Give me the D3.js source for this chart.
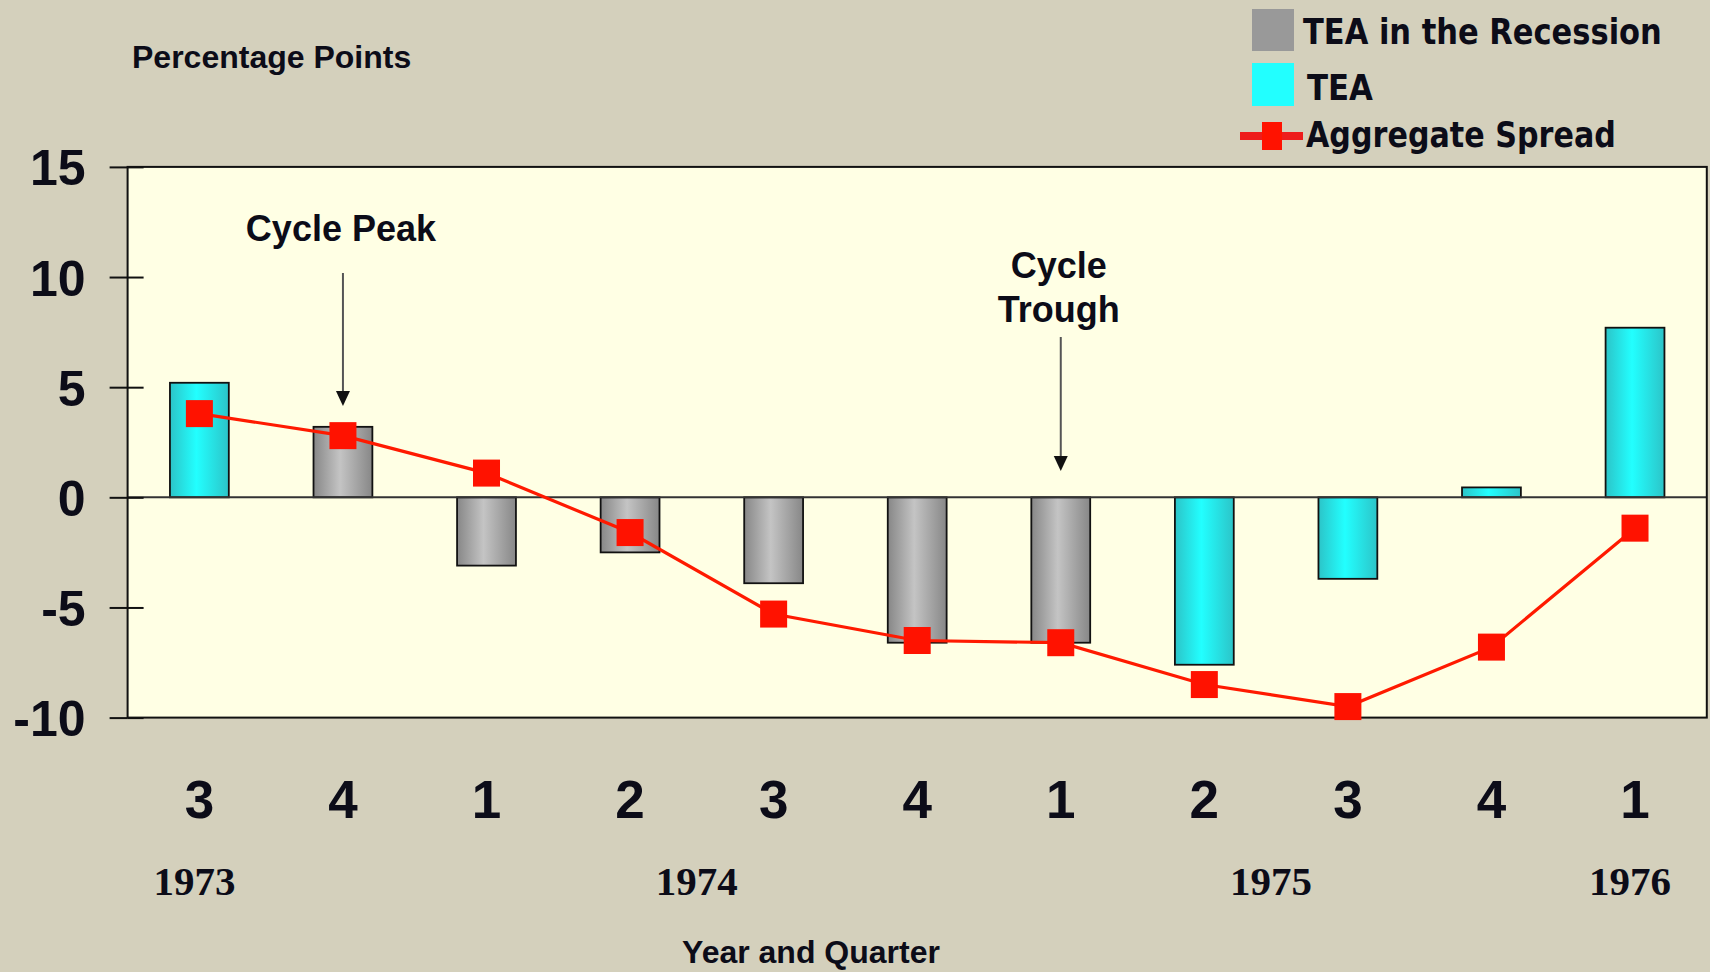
<!DOCTYPE html>
<html><head><meta charset="utf-8">
<script src="https://cdn.jsdelivr.net/npm/d3@7"></script>
<style>html,body{margin:0;padding:0;background:#d4d0bc;} svg{display:block}</style>
</head><body>
<svg id="c" width="1710" height="972"></svg>
<script>
// ---- data ----
const periods = ["1973Q3","1973Q4","1974Q1","1974Q2","1974Q3","1974Q4","1975Q1","1975Q2","1975Q3","1975Q4","1976Q1"];
const quarterLabels = ["3","4","1","2","3","4","1","2","3","4","1"];
const teaValues = [5.2, 3.2, -3.1, -2.5, -3.9, -6.6, -6.6, -7.6, -3.7, 0.45, 7.7];
const inRecession = [false, true, true, true, true, true, true, false, false, false, false];
const aggregateSpread = [3.8, 2.8, 1.1, -1.6, -5.3, -6.5, -6.6, -8.5, -9.5, -6.8, -1.4];
const yTicks = [15, 10, 5, 0, -5, -10];
const years = ["1973", "1974", "1975", "1976"];
const yearStart = ["1973Q3", "1974Q2", "1975Q2", "1976Q1"];
const yearEnd   = ["1973Q3", "1974Q3", "1975Q3", "1976Q1"];
const annotations = [
  {lines:["Cycle Peak"], period:"1973Q4", textY:[240.5], arrowTop:273, arrowTip:406},
  {lines:["Cycle","Trough"], period:"1975Q1", textY:[278, 322], arrowTop:337, arrowTip:471}
];

// ---- layout ----
const pLeft = 127.6, pRight = 1706.8, pTop = 166.9, pBottom = 717.6;
const svg = d3.select("#c");
const SANS = "'Liberation Sans', Arial, sans-serif";
const INK = "#0c0c18";

const defs = svg.append("defs");
function grad(id, edge, mid) {
  const g = defs.append("linearGradient").attr("id", id).attr("x1","0").attr("x2","1").attr("y1","0").attr("y2","0");
  g.append("stop").attr("offset","0%").attr("stop-color", edge);
  g.append("stop").attr("offset","45%").attr("stop-color", mid);
  g.append("stop").attr("offset","100%").attr("stop-color", edge);
}
grad("gGray", "#878787", "#c4c4c4");
grad("gCyan", "#2cc4c8", "#22ffff");

const x = d3.scaleBand().domain(periods).range([pLeft, pRight]).paddingInner(0.59).paddingOuter(0.295);
const y = d3.scaleLinear().domain([-10, 15]).range([pBottom, pTop]);
const cx = p => x(p) + x.bandwidth() / 2;

// plot background
svg.append("rect").attr("x", pLeft).attr("y", pTop).attr("width", pRight - pLeft).attr("height", pBottom - pTop)
  .attr("fill", "#ffffe4");

// bars
svg.append("g").selectAll("rect").data(periods).join("rect")
  .attr("x", d => x(d))
  .attr("width", x.bandwidth())
  .attr("y", (d, i) => y(Math.max(0, teaValues[i])))
  .attr("height", (d, i) => Math.abs(y(teaValues[i]) - y(0)))
  .attr("fill", (d, i) => inRecession[i] ? "url(#gGray)" : "url(#gCyan)")
  .attr("stroke", "#111").attr("stroke-width", 1.8);

// zero line
svg.append("line").attr("x1", pLeft).attr("x2", pRight).attr("y1", y(0)).attr("y2", y(0))
  .attr("stroke", "#333").attr("stroke-width", 2);

// y axis (left ticks + labels) and right half ticks
const yAxisL = svg.append("g").attr("transform", `translate(${pLeft},0)`)
  .call(d3.axisLeft(y).tickValues(yTicks).tickSize(18).tickPadding(24).tickFormat(d => String(d)));
yAxisL.select(".domain").remove();
yAxisL.selectAll("line").attr("stroke", "#111").attr("stroke-width", 2);
yAxisL.selectAll("text").attr("font-family", SANS).attr("font-size", 50).attr("fill", INK)
  .attr("font-weight", "bold").attr("dy", "0.36em");
const yAxisR = svg.append("g").attr("transform", `translate(${pLeft},0)`)
  .call(d3.axisRight(y).tickValues(yTicks).tickSize(16).tickFormat(""));
yAxisR.select(".domain").remove();
yAxisR.selectAll("line").attr("stroke", "#111").attr("stroke-width", 2);

// x axis (quarter labels)
const xAxis = svg.append("g").attr("transform", `translate(0,${pBottom})`)
  .call(d3.axisBottom(x).tickSize(0).tickFormat((d, i) => quarterLabels[i]));
xAxis.select(".domain").remove();
xAxis.selectAll("text").attr("font-family", SANS).attr("font-size", 53).attr("fill", INK)
  .attr("font-weight", "bold").attr("y", 100).attr("dy", 0);

// year labels
svg.append("g").selectAll("text").data(years).join("text")
  .attr("x", (d, i) => (cx(yearStart[i]) + cx(yearEnd[i])) / 2 - 5)
  .attr("y", 895)
  .attr("text-anchor", "middle")
  .attr("font-family", "'Liberation Serif', 'Times New Roman', serif")
  .attr("font-weight", "bold").attr("font-size", 41).attr("fill", INK)
  .text(d => d);

// plot border
svg.append("rect").attr("x", pLeft).attr("y", pTop).attr("width", pRight - pLeft).attr("height", pBottom - pTop)
  .attr("fill", "none").attr("stroke", "#111").attr("stroke-width", 2);

// aggregate spread line
const line = d3.line().x((d, i) => cx(periods[i])).y(d => y(d));
svg.append("path").datum(aggregateSpread).attr("d", line)
  .attr("fill", "none").attr("stroke", "#ff1a00").attr("stroke-width", 3.2);
const ms = 27;
svg.append("g").selectAll("rect").data(aggregateSpread).join("rect")
  .attr("x", (d, i) => cx(periods[i]) - ms / 2)
  .attr("y", d => y(d) - ms / 2)
  .attr("width", ms).attr("height", ms)
  .attr("fill", "#ff1200");

// annotations
annotations.forEach(a => {
  const ax = cx(a.period);
  a.lines.forEach((t, k) => {
    svg.append("text").attr("x", ax - 2).attr("y", a.textY[k])
      .attr("text-anchor", "middle").attr("font-family", SANS).attr("font-weight", "bold")
      .attr("font-size", 36).attr("fill", INK).text(t);
  });
  svg.append("line").attr("x1", ax).attr("x2", ax).attr("y1", a.arrowTop).attr("y2", a.arrowTip - 12)
    .attr("stroke", "#555").attr("stroke-width", 2);
  svg.append("path")
    .attr("d", `M${ax - 7},${a.arrowTip - 15} L${ax + 7},${a.arrowTip - 15} L${ax},${a.arrowTip} Z`)
    .attr("fill", "#111");
});

// y axis title
svg.append("text").attr("x", 132).attr("y", 68).attr("font-family", SANS).attr("font-weight", "bold")
  .attr("font-size", 32).attr("fill", INK).text("Percentage Points");

// x axis title
svg.append("text").attr("x", 811).attr("y", 963).attr("text-anchor", "middle")
  .attr("font-family", SANS).attr("font-weight", "bold")
  .attr("font-size", 32).attr("fill", INK).text("Year and Quarter");

// legend
const LEG = "'DejaVu Sans', Verdana, sans-serif";
const leg = svg.append("g");
leg.append("rect").attr("x", 1252).attr("y", 9).attr("width", 42).attr("height", 42).attr("fill", "#999999");
leg.append("rect").attr("x", 1252).attr("y", 63).attr("width", 42).attr("height", 43).attr("fill", "#22ffff");
leg.append("line").attr("x1", 1240).attr("x2", 1303).attr("y1", 136).attr("y2", 136)
  .attr("stroke", "#ee1c1c").attr("stroke-width", 8);
leg.append("rect").attr("x", 1262).attr("y", 122).attr("width", 20).attr("height", 28).attr("fill", "#ff1200");
const legendItems = [
  {t:"TEA in the Recession", x:1303, y:44, len:359},
  {t:"TEA", x:1307, y:100, len:66},
  {t:"Aggregate Spread", x:1306, y:146.5, len:310}
];
legendItems.forEach(d => {
  const g = leg.append("g");
  const t = g.append("text").attr("x", 0).attr("y", 0)
    .attr("font-family", LEG).attr("font-weight", "bold").attr("font-size", 36)
    .attr("fill", INK).text(d.t);
  const natural = t.node().getComputedTextLength() || d.len;
  g.attr("transform", `translate(${d.x},${d.y}) scale(${d.len / natural},1)`);
});
</script>
</body></html>
